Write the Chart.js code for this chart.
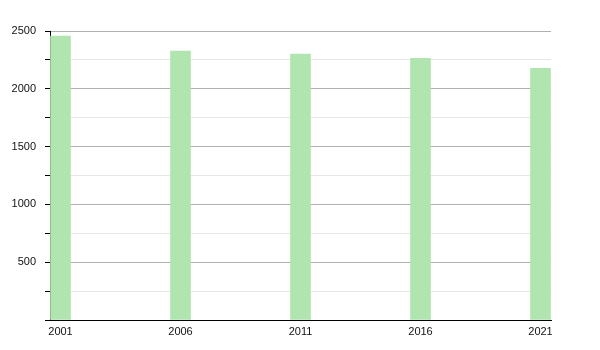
<!DOCTYPE html>
<html><head><meta charset="utf-8">
<script src="https://cdn.jsdelivr.net/npm/chart.js@4/dist/chart.umd.min.js"></script>
<style>html,body{margin:0;padding:0;background:#fff}#wrap{width:600px;height:350px}</style>
</head><body><div id="wrap"><canvas id="c"></canvas></div>
<script>
const years = [2001, 2006, 2011, 2016, 2021];
const population = [2455, 2327, 2300, 2264, 2177];
const yTickStep = 250;
const yMax = 2500;

new Chart(document.getElementById('c'), {
  type: 'bar',
  data: {
    datasets: [{
      data: years.map((y, i) => ({x: y, y: population[i]})),
      backgroundColor: '#b1e5af',
      borderWidth: 0,
      barThickness: 20
    }]
  },
  options: {
    responsive: true,
    maintainAspectRatio: false,
    animation: false,
    layout: {padding: {top: 31, right: 49, left: 0, bottom: 0}},
    plugins: {legend: {display: false}, tooltip: {enabled: false}},
    scales: {
      x: {
        type: 'linear',
        offset: false,
        min: years[0] - 0.4375,
        max: years[years.length - 1] + 0.4375,
        afterBuildTicks: s => { s.ticks = years.map(v => ({value: v})); },
        afterFit: s => { s.height = 30; },
        grid: {drawOnChartArea: false, drawTicks: false, offset: false},
        border: {display: true, color: '#000', width: 1},
        ticks: {padding: 5, color: '#111', font: {family: 'Liberation Sans', size: 11}, callback: v => String(v), maxRotation: 0, autoSkip: false}
      },
      y: {
        min: 0, max: yMax,
        afterFit: s => { s.width = 50; },
        ticks: {
          stepSize: yTickStep,
          padding: 9,
          color: '#111',
          font: {family: 'Liberation Sans', size: 11},
          callback: v => (v > 0 && v % 500 === 0) ? String(v) : ''
        },
        grid: {
          color: ctx => (ctx.tick && ctx.tick.value % 500 === 0) ? '#b0b0b0' : '#e6e6e6',
          tickColor: '#000',
          tickLength: 5
        },
        border: {display: true, color: '#000', width: 1}
      }
    }
  }
});
</script></body></html>
